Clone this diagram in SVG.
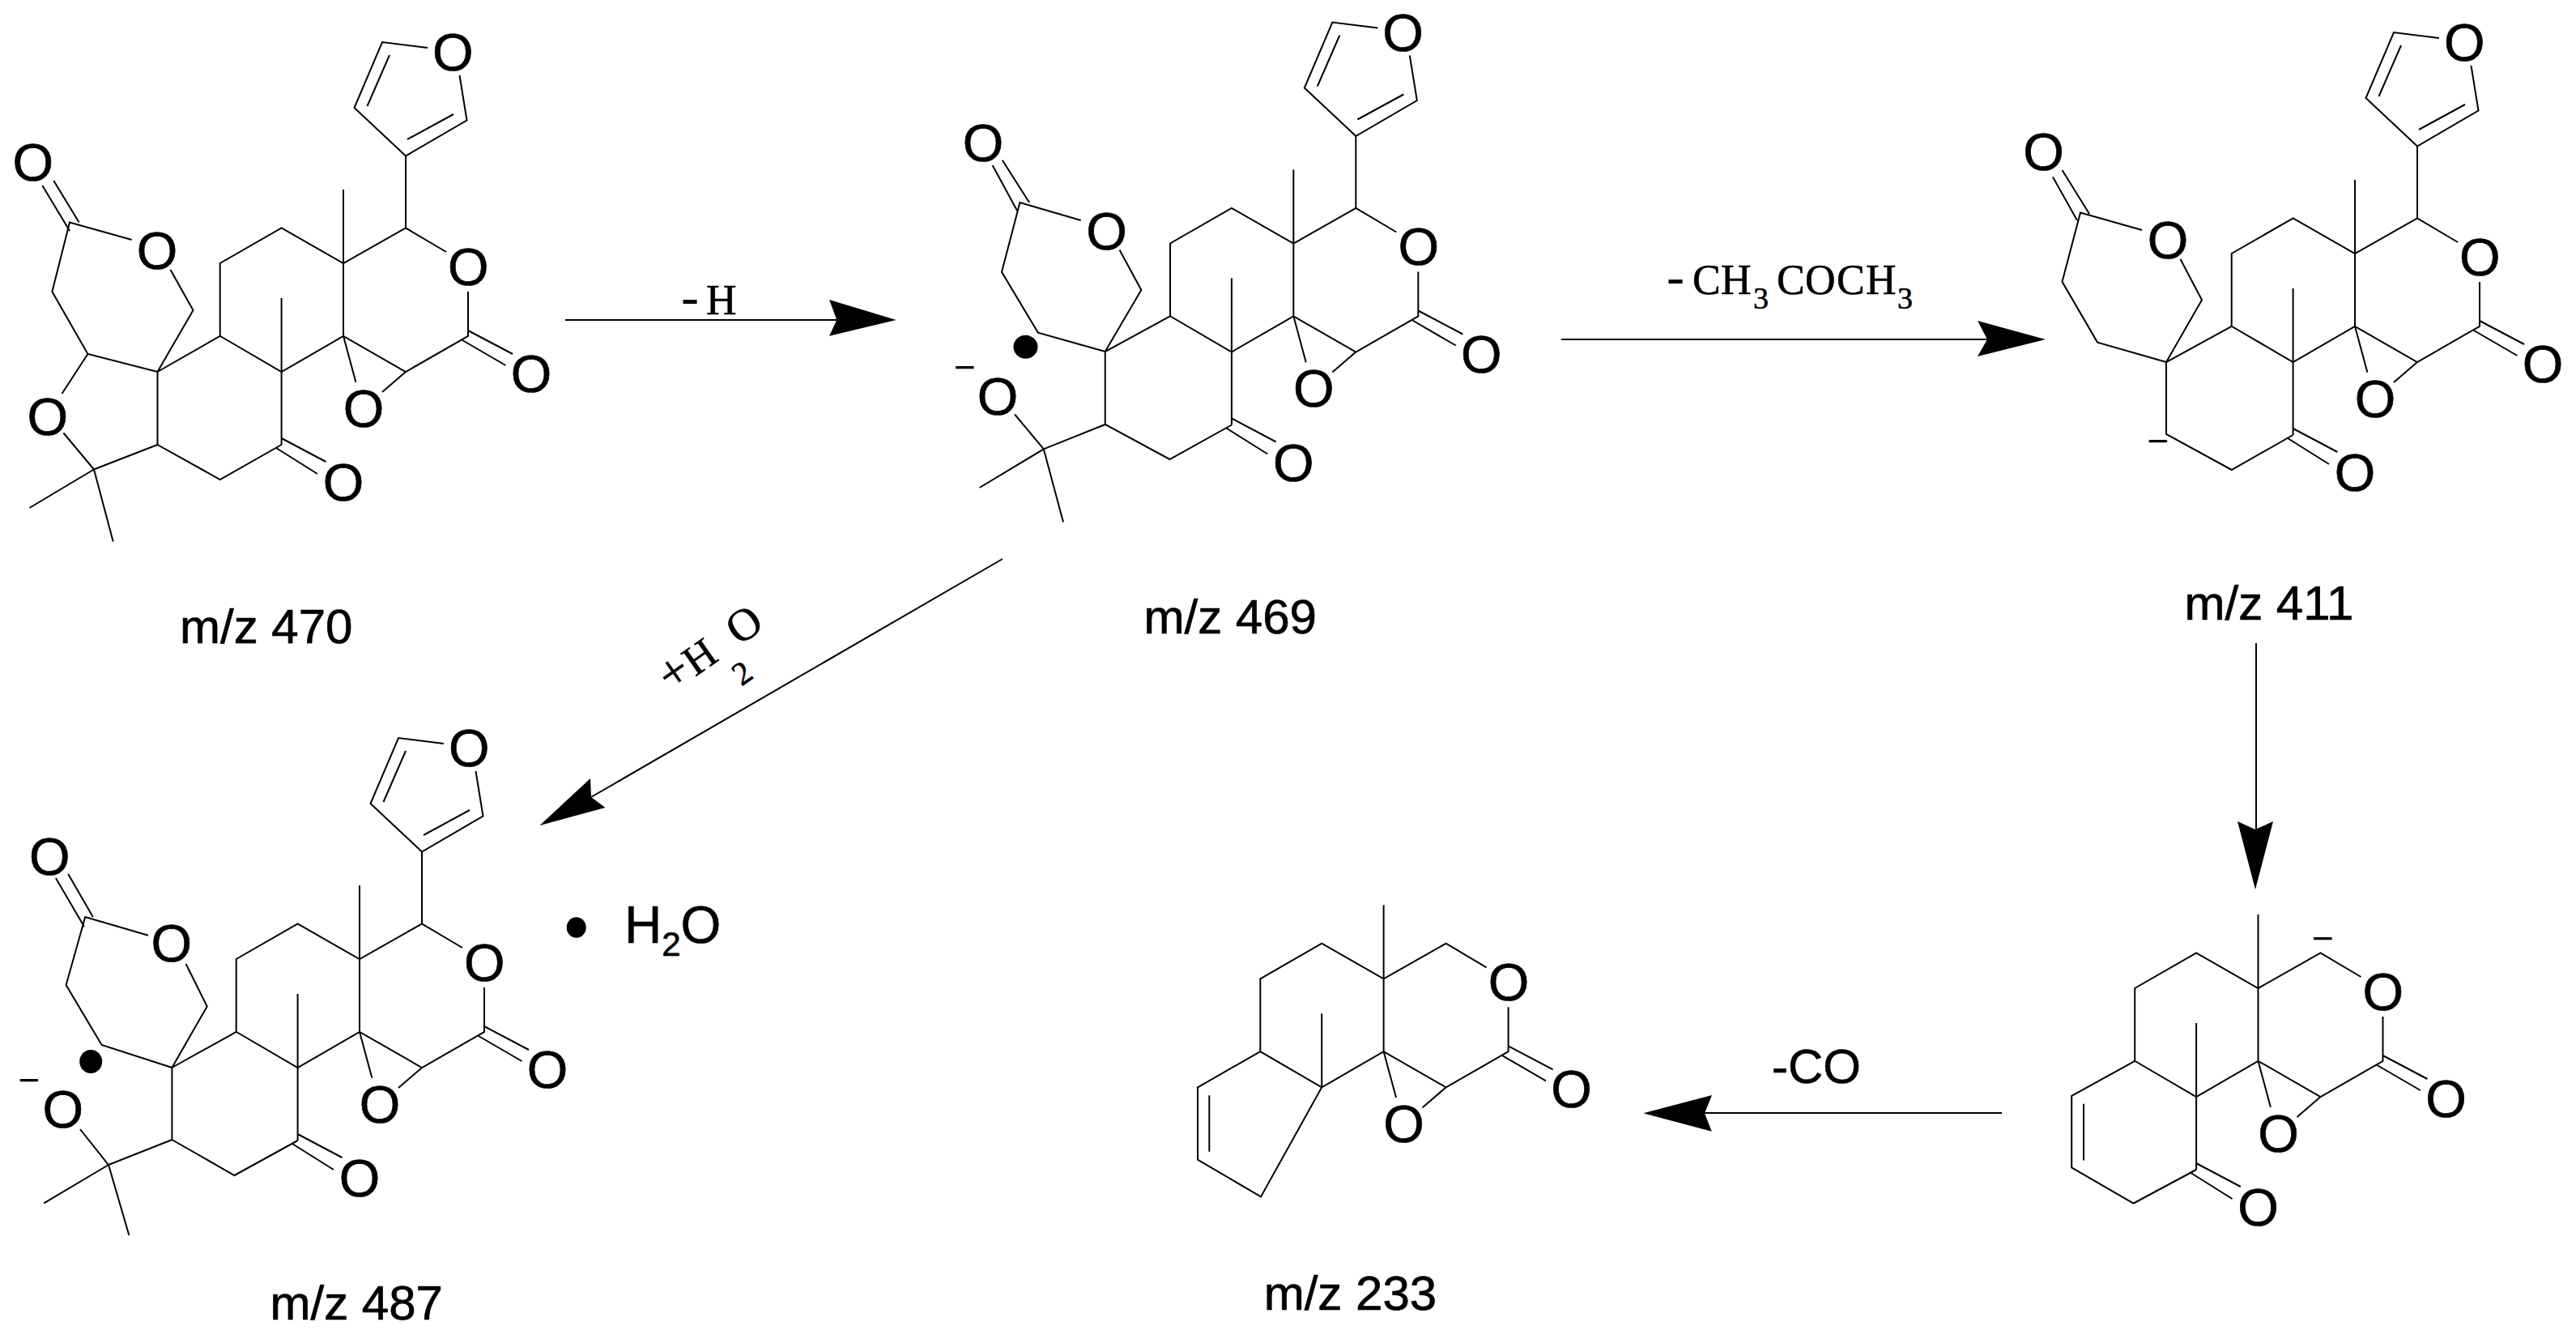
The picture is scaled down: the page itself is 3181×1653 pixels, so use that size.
<svg xmlns="http://www.w3.org/2000/svg" width="3181" height="1653" viewBox="0 0 3181 1653">
<style>
.b{fill:none;stroke:#000;stroke-width:2;stroke-linecap:butt;stroke-linejoin:miter}
.a{font:65px "Liberation Sans",Arial,sans-serif;text-anchor:middle;fill:#000;stroke:#000;stroke-width:.7;transform:translateY(1px)}
.l{font:60px "Liberation Sans",Arial,sans-serif;fill:#000;stroke:#000;stroke-width:.7}
.s{font:52px "Liberation Serif","Times New Roman",serif;fill:#000;stroke:#000;stroke-width:.6}
.d{font-size:66px;stroke:none}
.c{font:46px "Liberation Sans",Arial,sans-serif;text-anchor:middle;fill:#000}
.w{fill:#fff}
.h{fill:#000;stroke:none}
</style>
<rect class="w" width="3181" height="1653"/>
<g id="connectors">
<path class="b" d="M698 395H1035"/><polygon class="h" points="1106.7,395 1024,370 1033.3,395 1024,414.7"/>
<path class="b" d="M1928 419H2454"/><polygon class="h" points="2526,419 2442,396 2454,419 2442,440"/>
<path class="b" d="M2786 794V1025"/><polygon class="h" points="2785,1098 2763,1014 2785,1024 2807,1014"/>
<path class="b" d="M2472 1374H2105"/><polygon class="h" points="2029.3,1374.3 2114,1352 2105,1374.3 2113.7,1396.7"/>
<path class="b" d="M1238 690L730 984"/><polygon class="h" points="666.5,1019 729,961 730,984 747.4,997"/>
<text class="s" y="387.5"><tspan class="d" x="841">-</tspan><tspan x="872">H</tspan></text>
<text class="s" y="362.7"><tspan class="d" x="2058">-</tspan><tspan x="2090 2125">CH</tspan><tspan y="380.7" x="2165" font-size="38">3</tspan><tspan y="362.7" x="2194 2229 2268 2304">COCH</tspan><tspan y="380.7" x="2343" font-size="38">3</tspan></text>
<text class="s" transform="translate(843,846.6) rotate(-35)" y="0"><tspan x="-17" font-size="62">+</tspan><tspan x="19">H</tspan><tspan x="59" y="42.5" font-size="40">2</tspan><tspan x="85" y="0" font-size="56">O</tspan></text>
<text class="l" x="2188" y="1337">-CO</text>
</g>
<g id="mol-470">
<path class="b" d="M528 59L472 52L437.5 133L501 192.5L576.5 148.5L567.5 93M481 68L453.5 131M560 141L503 172M501 192.5V281.4"/>
<path class="b" d="M551 311L501 281.4L424 325L347.6 281.4L271.7 325V414.8L347.6 459L424 414.8L501 459L578 414.8V360M424 234V414.8M347.6 368V459M424 414.8L439.4 471.8M501 459L472 484M578 408L633 437M571 420L624.4 451"/>
<path class="b" d="M347.6 459V549M347.6 541L402.4 570M341 553L392 585"/>
<path class="b" d="M271.7 414.8L194.5 459V549L271.7 592L347.6 549M194.5 459L238.5 383L210.5 333M162.6 296L86 274.6L64.4 360L108.4 437L194.5 459M108.4 437L76.5 486M78.4 534.5L116 579.5L194.5 549M116 579.5L36.4 627M116 579.5L139.7 668.4M52.3 229L86 285M66.3 223L97.6 274.6"/>
<text class="a" x="559.3" y="86">O</text><text class="a" x="578.4" y="350.5">O</text><text class="a" x="449" y="525.7">O</text><text class="a" x="656" y="483">O</text><text class="a" x="424" y="617">O</text>
<text class="a" x="194" y="330.6">O</text><text class="a" x="58.7" y="535.6">O</text><text class="a" x="40.8" y="222.3">O</text>
<text class="l" x="222" y="794">m/z 470</text>
</g>
<g id="mol-469">
<g transform="translate(1173.3,-24.5)">
<path class="b" d="M528 59L472 52L437.5 133L501 192.5L576.5 148.5L567.5 93M481 68L453.5 131M560 141L503 172M501 192.5V281.4"/>
<path class="b" d="M551 311L501 281.4L424 325L347.6 281.4L271.7 325V414.8L347.6 459L424 414.8L501 459L578 414.8V360M424 234V414.8M347.6 368V459M424 414.8L439.4 471.8M501 459L472 484M578 408L633 437M571 420L624.4 451"/>
<path class="b" d="M347.6 459V549M347.6 541L402.4 570M341 553L392 585"/>
<text class="a" x="559.3" y="86">O</text><text class="a" x="578.4" y="350.5">O</text><text class="a" x="449" y="525.7">O</text><text class="a" x="656" y="483">O</text><text class="a" x="424" y="617">O</text>
</g>
<path class="b" d="M1444.4 390.7L1364.7 434V524L1444.4 567L1521 524.5M1364.7 434L1409.3 358L1382.5 308.6M1334.7 272L1259.4 250L1237 335.8L1281.8 410.6L1364.7 434M1253 511.5L1288.8 554.4L1364.7 524M1288.8 554.4L1209.7 602M1288.8 554.4L1313 644.4M1225.6 204L1256 260M1237.8 197.7L1271 250"/>
<text class="a" x="1366.6" y="307">O</text><text class="a" x="1232" y="510.5">O</text><text class="a" x="1214" y="197.7">O</text>
<ellipse class="h" cx="1266.5" cy="428.3" rx="15" ry="14.5"/>
<text class="c" x="1191.5" y="468.5">−</text>
<text class="l" x="1412.5" y="782">m/z 469</text>
</g>
<g id="mol-411">
<g transform="translate(2484,-12)">
<path class="b" d="M528 59L472 52L437.5 133L501 192.5L576.5 148.5L567.5 93M481 68L453.5 131M560 141L503 172M501 192.5V281.4"/>
<path class="b" d="M551 311L501 281.4L424 325L347.6 281.4L271.7 325V414.8L347.6 459L424 414.8L501 459L578 414.8V360M424 234V414.8M347.6 368V459M424 414.8L439.4 471.8M501 459L472 484M578 408L633 437M571 420L624.4 451"/>
<path class="b" d="M347.6 459V549M347.6 541L402.4 570M341 553L392 585"/>
<text class="a" x="559.3" y="86">O</text><text class="a" x="578.4" y="350.5">O</text><text class="a" x="449" y="525.7">O</text><text class="a" x="656" y="483">O</text><text class="a" x="424" y="617">O</text>
</g>
<path class="b" d="M2755.7 402.8L2675 447V536L2755.7 580L2831.6 537M2675 447L2719 370.3L2692.5 320M2645 284L2569 262.6L2546.5 347.8L2590 422.6L2675 447M2535 218.6L2565 272M2546.5 210L2580 264"/>
<text class="a" x="2677" y="318">O</text><text class="a" x="2523.5" y="209">O</text>
<text class="c" x="2665" y="560">−</text>
<text class="l" x="2697.5" y="765">m/z 411</text>
</g>
<g id="mol-487">
<g transform="translate(20,859)">
<path class="b" d="M528 59L472 52L437.5 133L501 192.5L576.5 148.5L567.5 93M481 68L453.5 131M560 141L503 172M501 192.5V281.4"/>
<path class="b" d="M551 311L501 281.4L424 325L347.6 281.4L271.7 325V414.8L347.6 459L424 414.8L501 459L578 414.8V360M424 234V414.8M347.6 368V459M424 414.8L439.4 471.8M501 459L472 484M578 408L633 437M571 420L624.4 451"/>
<path class="b" d="M347.6 459V549M347.6 541L402.4 570M341 553L392 585"/>
<text class="a" x="559.3" y="86">O</text><text class="a" x="578.4" y="350.5">O</text><text class="a" x="449" y="525.7">O</text><text class="a" x="656" y="483">O</text><text class="a" x="424" y="617">O</text>
</g>
<path class="b" d="M291.7 1273.8L212.4 1318V1407L289.5 1451L367.6 1408M212.4 1318L255.7 1242.4L229.6 1190M183 1154.8L105.2 1132L81.6 1216L125.6 1290L212.4 1318M98.9 1394L134 1438L212.4 1407M134 1438L54.2 1485.3M134 1438L159.4 1525M68.9 1084L104 1144M84.2 1079L114.8 1132"/>
<text class="a" x="211.7" y="1186.3">O</text><text class="a" x="77.8" y="1391.4">O</text><text class="a" x="61.2" y="1079">O</text>
<ellipse class="h" cx="112.2" cy="1310.4" rx="14" ry="14.5"/>
<text class="c" x="36" y="1349.4">−</text>
<ellipse class="h" cx="711.7" cy="1145" rx="12" ry="12.7"/>
<text class="l" x="771" y="1164.3" style="font-size:64px">H<tspan style="font-size:42px" y="1180">2</tspan><tspan y="1164.3">O</tspan></text>
<text class="l" x="333.5" y="1628.7">m/z 487</text>
</g>
<g id="mol-233">
<g transform="translate(1284.6,883.3)">
<path class="b" d="M551 311L501 281.4L424 325L347.6 281.4L271.7 325V414.8L347.6 459L424 414.8L501 459L578 414.8V360M424 234V414.8M347.6 368V459M424 414.8L439.4 471.8M501 459L472 484M578 408L633 437M571 420L624.4 451"/>
<text class="a" x="578.4" y="350.5">O</text><text class="a" x="449" y="525.7">O</text><text class="a" x="656" y="483">O</text>
</g>
<path class="b" d="M1556.3 1298.1L1479 1342.3V1431.6L1557 1477.4L1632.2 1342.3M1493.3 1352.2V1421.7"/>
<text class="l" x="1560.7" y="1616.7">m/z 233</text>
</g>
<g id="mol-ketone">
<g transform="translate(2364.5,895)">
<path class="b" d="M551 311L501 281.4L424 325L347.6 281.4L271.7 325V414.8L347.6 459L424 414.8L501 459L578 414.8V360M424 234V414.8M347.6 368V459M424 414.8L439.4 471.8M501 459L472 484M578 408L633 437M571 420L624.4 451"/>
<path class="b" d="M347.6 459V549M347.6 541L402.4 570M341 553L392 585"/>
<text class="a" x="578.4" y="350.5">O</text><text class="a" x="449" y="525.7">O</text><text class="a" x="656" y="483">O</text><text class="a" x="424" y="617">O</text>
</g>
<path class="b" d="M2636.2 1309.8L2558.2 1352.8V1441.4L2634.6 1485.5L2712 1444M2573 1362.8V1432.4"/>
<text class="c" x="2868.4" y="1173.8">−</text>
</g>
</svg>
